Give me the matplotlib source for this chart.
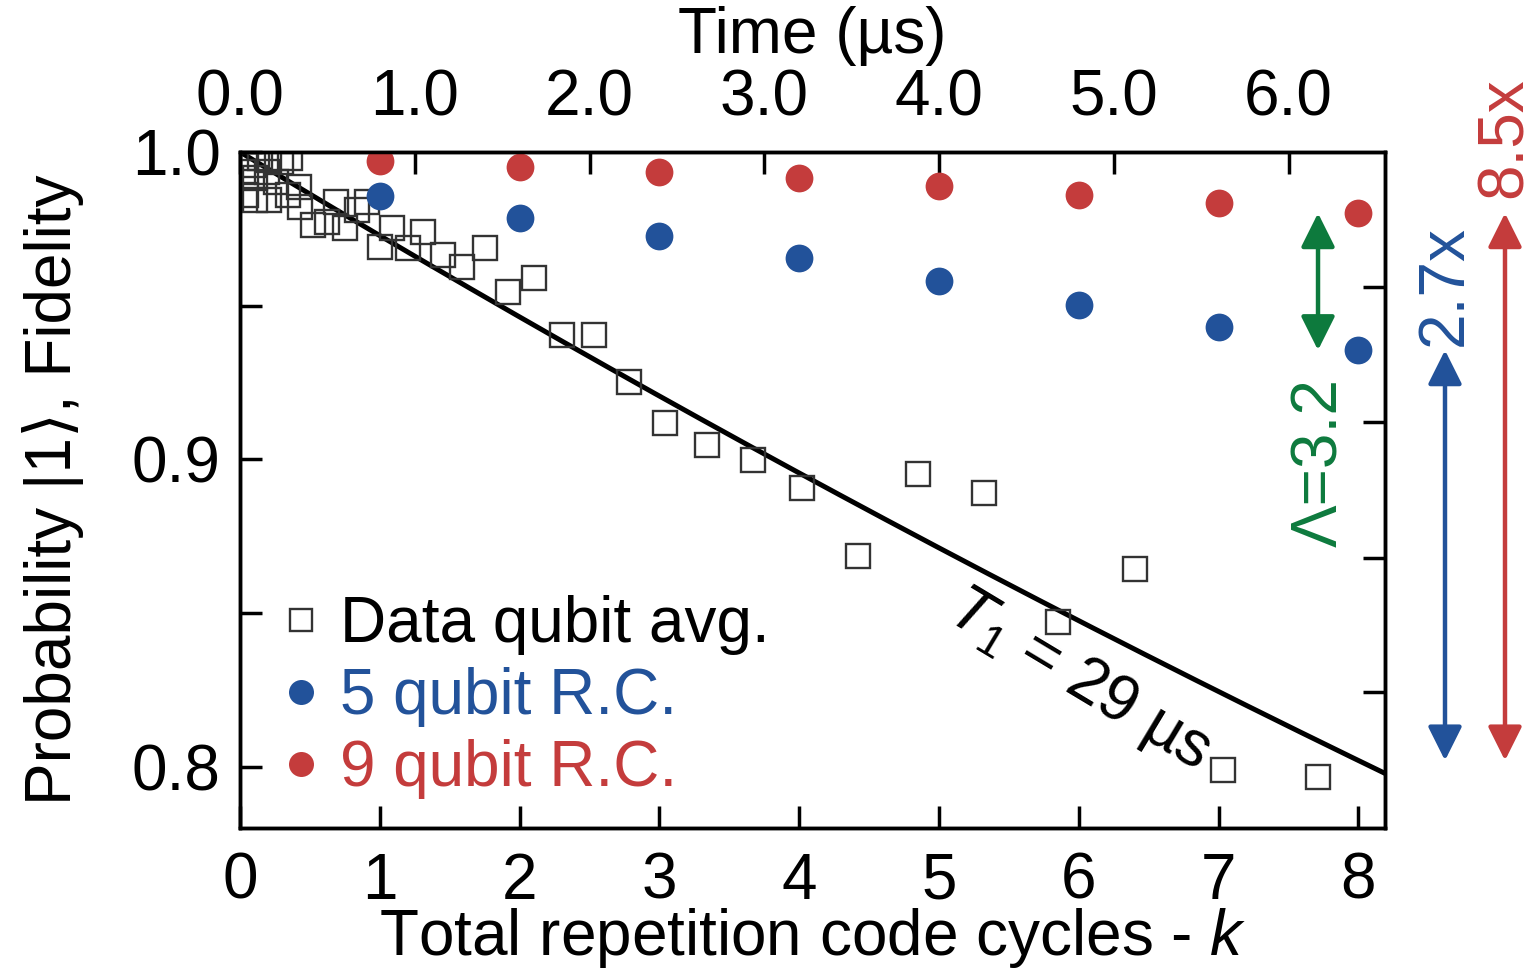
import numpy as np
import matplotlib
matplotlib.use("Agg")
import matplotlib.pyplot as plt
import matplotlib.transforms as mtransforms

plt.rcParams['font.family'] = ['Liberation Sans', 'DejaVu Sans']
plt.rcParams['mathtext.fontset'] = 'custom'
plt.rcParams['mathtext.rm'] = 'Liberation Sans'
plt.rcParams['mathtext.it'] = 'Liberation Sans:italic'

# ---- data ----
cycles_rc = [1, 2, 3, 4, 5, 6, 7, 8]
fid_5q = [0.9857, 0.9785, 0.9726, 0.9655, 0.9580, 0.9502, 0.9430, 0.9355]
fid_9q = [0.9971, 0.9951, 0.9935, 0.9915, 0.9889, 0.9860, 0.9834, 0.9801]

data_k = [0.04, 0.09, 0.14, 0.21, 0.29, 0.36, 0.04, 0.11, 0.19, 0.26,
          0.04, 0.11, 0.21, 0.34, 0.42, 0.43, 0.52, 0.62, 0.69, 0.75,
          0.84, 0.91, 1.00, 1.09, 1.20, 1.31, 1.45, 1.59, 1.75, 1.92,
          2.10, 2.30, 2.53, 2.78, 3.04, 3.34, 3.67, 4.02, 4.42, 4.85,
          5.32, 5.85, 6.40, 7.03, 7.71]
data_p = [0.998, 0.9958, 0.998, 0.9974, 0.9967, 0.998, 0.9935, 0.9915, 0.9935, 0.9902,
          0.986, 0.9844, 0.9844, 0.986, 0.9886, 0.9821, 0.9762, 0.9772, 0.9837, 0.9752,
          0.9811, 0.9837, 0.9691, 0.9752, 0.9687, 0.9739, 0.9664, 0.9625, 0.9687, 0.9544,
          0.9590, 0.9404, 0.9404, 0.9251, 0.9117, 0.9046, 0.8997, 0.8906, 0.8684, 0.8951,
          0.8889, 0.8469, 0.8642, 0.7990, 0.7967]

T1 = 29.0          # us
t_cycle = 0.8      # us per cycle
time_ticks = [0.0, 1.0, 2.0, 3.0, 4.0, 5.0, 6.0]

red = '#c43c3c'
blue = '#22529a'
green = '#0d7a3d'
fs = 46

fig = plt.figure(figsize=(15.38, 9.76), dpi=100)
ax = fig.add_axes([240/1538, 1-828/976, 1145/1538, 676/976])

k_line = np.linspace(0, 8.2, 200)
ax.plot(k_line, np.exp(-k_line*t_cycle/T1), color='black', lw=3.6, zorder=2)

ax.plot(data_k, data_p, 's', ms=17, mfc='none', mec='#333333', mew=1.7,
        label='Data qubit avg.', zorder=3)
ax.plot(cycles_rc, fid_5q, 'o', ms=20, color=blue, mec='none',
        label='5 qubit R.C.', zorder=4)
ax.plot(cycles_rc, fid_9q, 'o', ms=20, color=red, mec='none',
        label='9 qubit R.C.', zorder=4)

ax.set_xlim(0, 8.19)
ax.set_ylim(0.78, 1.0)
ax.set_xticks(range(9))
ax.set_yticks([0.8, 0.9, 1.0])
ax.set_yticklabels(['0.8', '0.9', '1.0'])
ax.set_yticks([0.85, 0.95], minor=True)
ax.tick_params(which='both', direction='in', length=16, width=2.5,
               labelsize=fs)
ax.tick_params(axis='x', pad=17)
ax.tick_params(axis='y', which='both', pad=14)
for s in ax.spines.values():
    s.set_linewidth(2.5)

ax.set_xlabel('Total repetition code cycles - $k$', fontsize=fs, labelpad=-4)
ax.set_ylabel('Probability |1⟩, Fidelity', fontsize=fs, labelpad=34)

# top axis: time
top = ax.secondary_xaxis('top', functions=(lambda k: k*t_cycle, lambda t: t/t_cycle))
top.set_xticks(time_ticks)
top.set_xticklabels([f'{t:.1f}' for t in time_ticks])
top.tick_params(direction='in', length=16, width=2.5, labelsize=fs, pad=17)
top.set_xlabel('Time (µs)', fontsize=fs, labelpad=11)

# right axis ticks
rax = ax.twinx()
rax.set_ylim(ax.get_ylim())
rax.set_yticks([0.956, 0.912, 0.868, 0.8244])
rax.set_yticklabels([])
rax.tick_params(direction='in', length=16, width=2.5)
for s in rax.spines.values():
    s.set_linewidth(2.5)

# legend
leg = ax.legend(loc='lower left', bbox_to_anchor=(0.0, 0.0), frameon=False,
                fontsize=fs, handletextpad=0.12, handlelength=1.0,
                labelspacing=0.19, borderaxespad=0.25, borderpad=0.2,
                markerscale=0.9)
for txt, c in zip(leg.get_texts(), ['black', blue, red]):
    txt.set_color(c)

# T1 label
ax.text(6.0, 0.828, '$T_{1}$ = 29 µs', fontsize=fs, rotation=-31,
        ha='center', va='center')

# arrows at right
trans = mtransforms.blended_transform_factory(ax.transAxes, ax.transData)
t1_end = np.exp(-cycles_rc[-1]*t_cycle/T1)
arrows = [(0.9415, fid_9q[-1], fid_5q[-1], green, 'Λ=3.2', 0.9435, 0.899),
          (1.0524, t1_end, fid_5q[-1], blue, '2.7x', 1.0524, 0.9567),
          (1.1048, t1_end, fid_9q[-1], red, '8.5x', 1.1048, 1.0046)]
for xa, y0, y1, c, lab, xt, yt in arrows:
    ax.annotate('', xy=(xa, y1), xytext=(xa, y0), xycoords=trans, textcoords=trans,
                arrowprops=dict(arrowstyle='<|-|>', color=c, lw=3.2,
                                mutation_scale=52, shrinkA=0, shrinkB=0),
                annotation_clip=False)
    ax.text(xt, yt, lab, transform=trans, rotation=90, color=c, fontsize=fs,
            ha='center', va='center', clip_on=False)

fig.savefig('out.png', dpi=100)
